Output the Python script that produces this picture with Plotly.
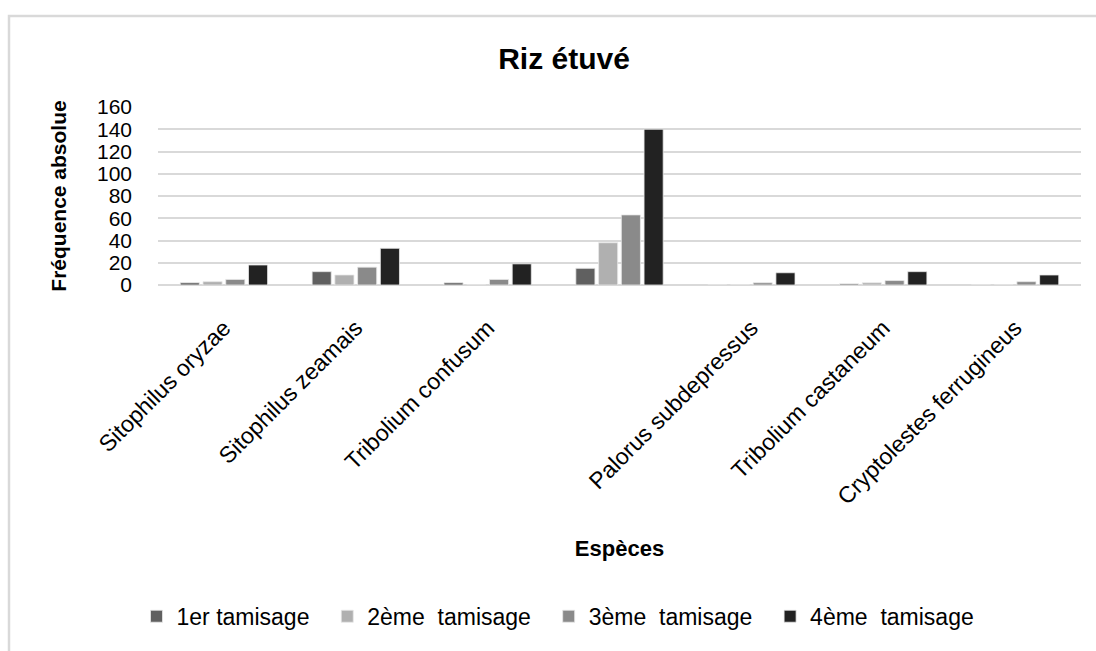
import plotly.graph_objects as go

categories = ["Sitophilus oryzae", "Sitophilus zeamais", "Tribolium confusum", " ",
              "Palorus subdepressus", "Tribolium castaneum", "Cryptolestes ferrugineus"]
series_names = ["1er tamisage", "2ème  tamisage", "3ème  tamisage", "4ème  tamisage"]
tamisage1 = [2, 12, 2, 15, 0, 1, 0]
tamisage2 = [3, 9, 0, 38, 0, 2, 0]
tamisage3 = [5, 16, 5, 63, 2, 4, 3]
tamisage4 = [18, 33, 19, 140, 11, 12, 9]
colors = ["#606060", "#b0b0b0", "#8a8a8a", "#222222"]
y_ticks = [0, 20, 40, 60, 80, 100, 120, 140, 160]

FONT = "Liberation Sans, Arial, sans-serif"
PAD = "\u00a0\u00a0"

fig = go.Figure()
for i, (name, vals, col) in enumerate(zip(series_names, [tamisage1, tamisage2, tamisage3, tamisage4], colors)):
    fig.add_trace(go.Bar(
        x=categories, y=vals, name=name + (PAD if i < 3 else ""),
        marker=dict(color=col, line=dict(color="#e8e8e8", width=0.8)),
    ))

W, H = 1096, 651
ml, mr, mt, mb = 158, 15, 107, 364
pw = W - ml - mr
ph = H - mt - mb

def px_x(x):
    return (x - ml) / pw

def px_y(y):
    return (H - mb - y) / ph

fig.add_shape(type="rect", xref="paper", yref="paper",
              x0=px_x(9), x1=px_x(1110), y0=px_y(15), y1=px_y(700),
              line=dict(color="#d9d9d9", width=2.5), fillcolor="rgba(0,0,0,0)", layer="below")

fig.update_layout(
    width=W, height=H,
    margin=dict(l=ml, r=mr, t=mt, b=mb),
    paper_bgcolor="white", plot_bgcolor="white",
    font=dict(family=FONT, color="#000000", size=21),
    title=dict(text="<b>Riz étuvé</b>", xref="container", x=564 / W, xanchor="center",
               yref="container", y=1 - 58 / H, yanchor="middle", font=dict(size=30, family=FONT)),
    barmode="group", bargap=0.31, bargroupgap=0.16,
    showlegend=True,
    legend=dict(orientation="h", x=px_x(558), xanchor="center", y=px_y(622), yanchor="middle",
                font=dict(size=23, family=FONT), itemwidth=30, traceorder="normal"),
    xaxis=dict(
        type="category", tickangle=-45, tickfont=dict(size=23, family=FONT),
        showgrid=False, showline=False, ticks="", ticklabelstandoff=24,
        title=dict(text="<b>Espèces</b>", font=dict(size=22, family=FONT), standoff=32),
    ),
    yaxis=dict(
        range=[0, 160], tickvals=y_ticks, ticktext=[str(v) for v in y_ticks],
        tickfont=dict(size=21, family=FONT), showgrid=True, gridcolor="#d9d9d9", gridwidth=1.5,
        zeroline=True, zerolinecolor="#d9d9d9", zerolinewidth=2, showline=False, ticks="",
        ticklabelstandoff=25,
        title=dict(text="<b>Fréquence absolue</b>", font=dict(size=21, family=FONT), standoff=24),
    ),
)

fig.write_html("out.html", config={"displayModeBar": False},
               post_script="document.body.style.margin='0px';")
